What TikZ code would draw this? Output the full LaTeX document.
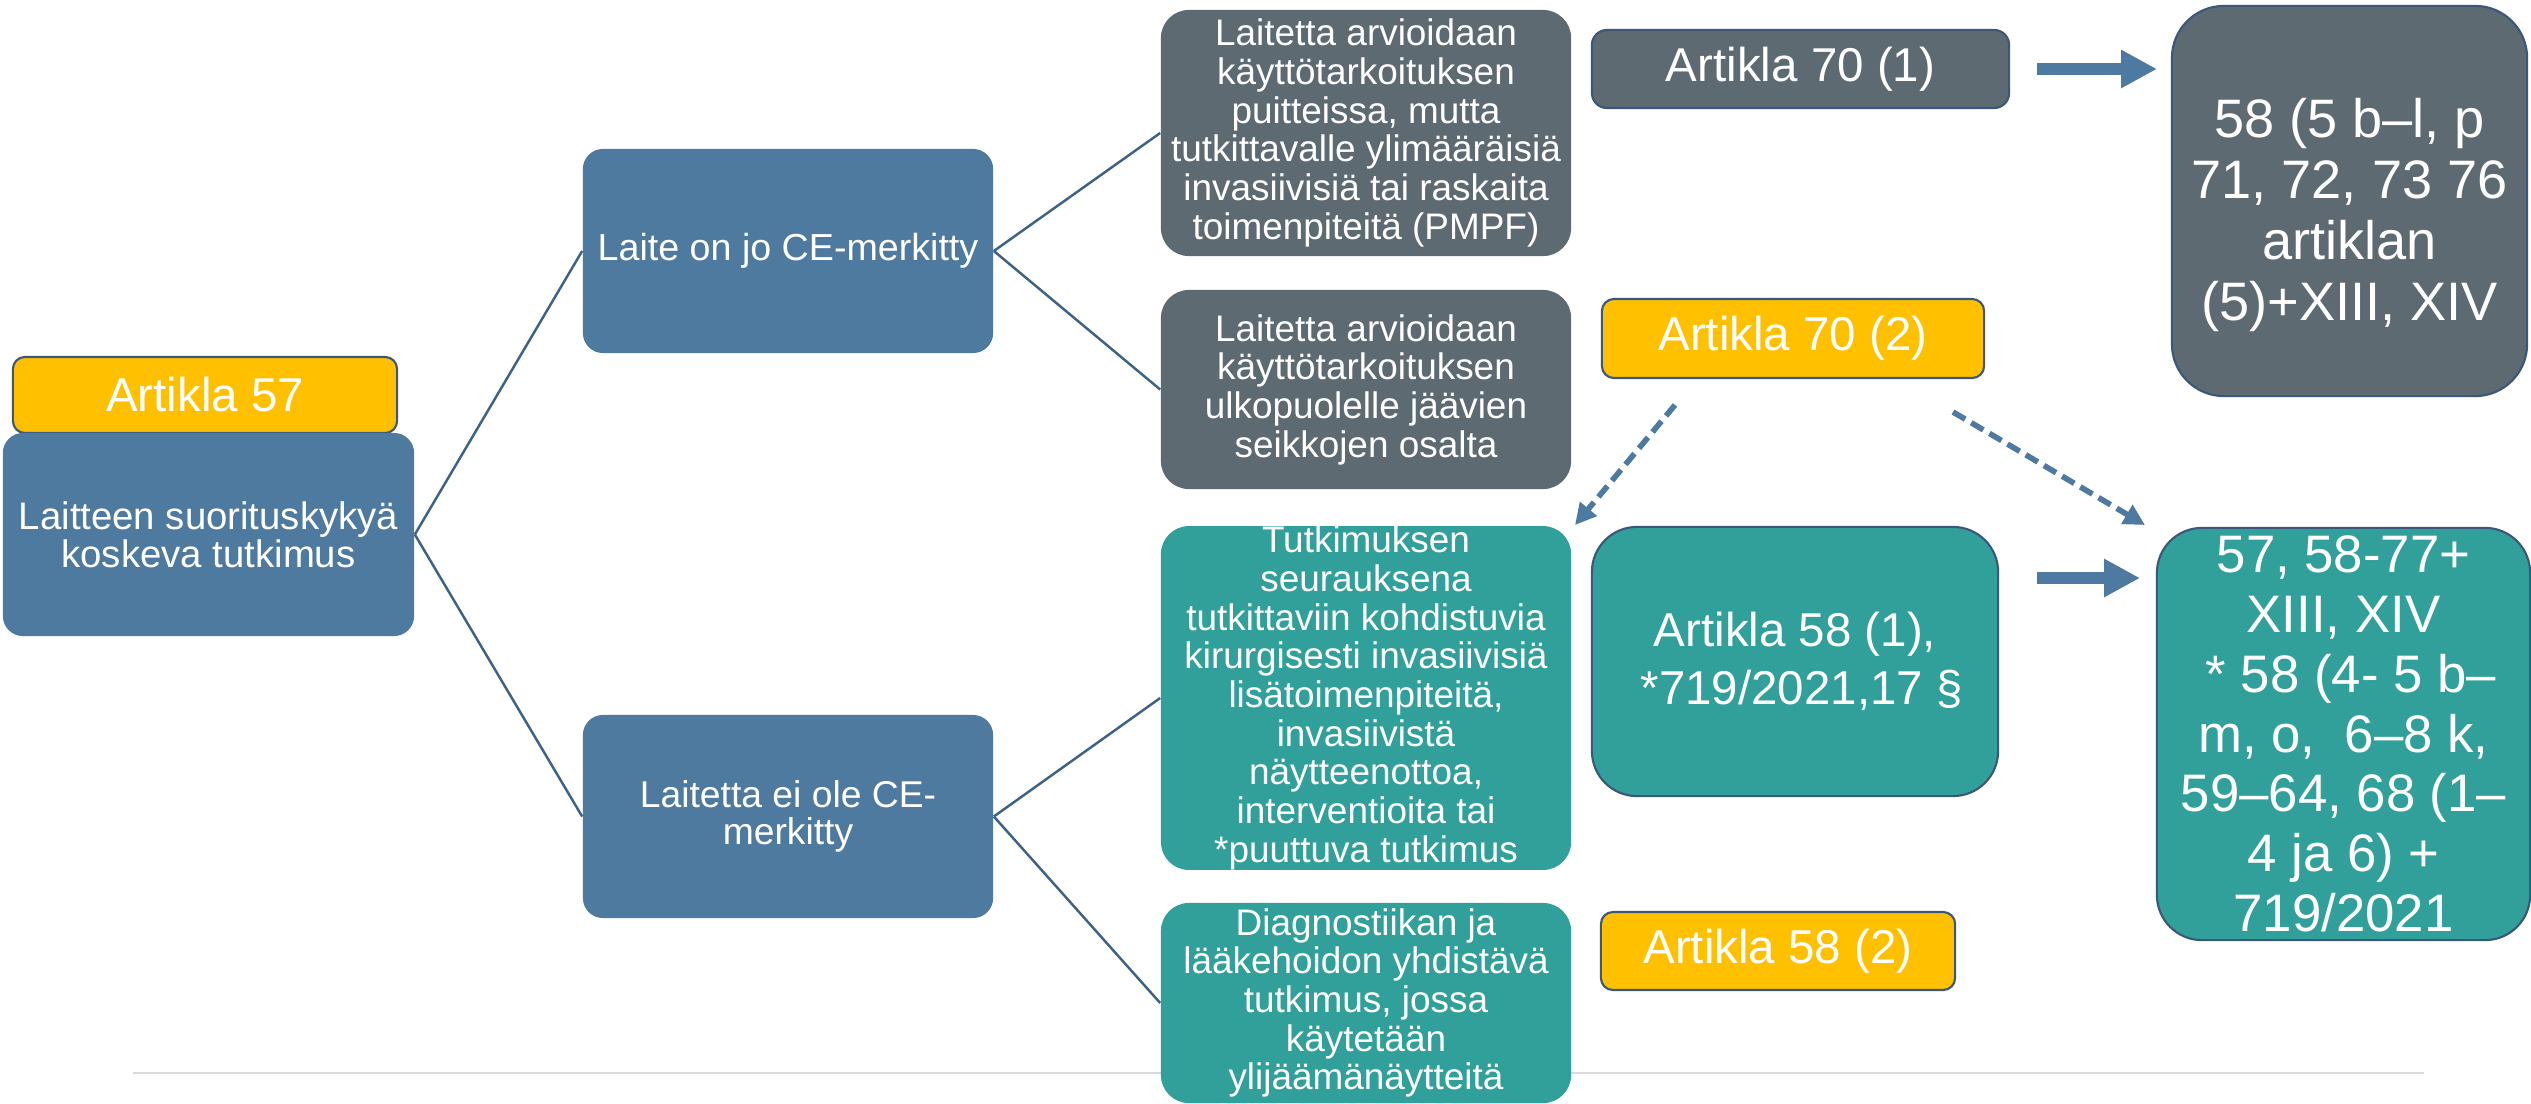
\documentclass[tikz,border=0pt]{standalone}
\usepackage{fontspec}
\setmainfont{Liberation Sans}
\usetikzlibrary{arrows.meta}
\definecolor{blueF}{RGB}{79,122,160}
\definecolor{greyF}{RGB}{94,106,114}
\definecolor{tealF}{RGB}{50,160,154}
\definecolor{yellowF}{RGB}{255,192,0}
\definecolor{borderC}{RGB}{59,87,122}
\definecolor{lineC}{RGB}{62,98,134}
\definecolor{arrowC}{RGB}{78,121,161}
\definecolor{sepC}{RGB}{218,218,218}
\newcommand{\smalltxt}{\fontsize{10.5}{11}\selectfont}
\newcommand{\bigtxt}{\fontsize{13.5}{16.3}\selectfont}
\tikzset{
  box/.style={rectangle, inner sep=0pt, text=white, align=center, anchor=center},
  bluebox/.style={box, fill=blueF, rounded corners=0.2cm, font=\smalltxt},
  greybox/.style={box, fill=greyF, rounded corners=0.28cm, font=\smalltxt},
  tealbox/.style={box, fill=tealF, rounded corners=0.28cm, font=\smalltxt},
  yellowbox/.style={box, fill=yellowF, draw=borderC, line width=0.6pt, rounded corners=0.12cm, font=\bigtxt},
  artbox/.style={box, draw=borderC, line width=0.6pt, font=\bigtxt},
  tree/.style={draw=lineC, line width=0.7pt},
  solidarrow/.style={draw=arrowC, line width=3.4pt, -{Triangle[length=10.2pt,width=10.2pt]}},
  dasharrow/.style={draw=arrowC, line width=1.6pt, dash pattern=on 4pt off 2pt, -{Triangle[length=6pt,width=6pt]}},
  sepline/.style={draw=sepC, line width=0.6pt}
}
\begin{document}
\begin{tikzpicture}[x=0.01cm, y=-0.01cm]
\useasboundingbox (0,0) rectangle (2531,1103);
% separator line
\coordinate (s1) at (133,1073);
\coordinate (s2) at (2424,1073);
\draw[sepline] (s1) -- (s2);

% left column
\node[yellowbox, minimum width=3.84cm, minimum height=0.76cm] (art57) at (205,395) {Artikla 57};
\node[bluebox, minimum width=4.11cm, minimum height=2.03cm, font=\fontsize{10.9}{10.9}\selectfont] (root) at (208.5,534.5) {Laitteen suorituskykyä\\koskeva tutkimus};

% second column
\node[bluebox, minimum width=4.10cm, minimum height=2.04cm, font=\fontsize{10.7}{11}\selectfont] (ce1) at (788,251) {Laite on jo CE-merkitty};
\node[bluebox, minimum width=4.10cm, minimum height=2.03cm, font=\fontsize{10.6}{10.4}\selectfont] (ce2) at (788,816.5) {Laitetta ei ole CE-\\merkitty};

% third column
\node[greybox, minimum width=4.10cm, minimum height=2.46cm] (g1) at (1366,133) {Laitetta arvioidaan\\käyttötarkoituksen\\puitteissa, mutta\\tutkittavalle ylimääräisiä\\invasiivisiä tai raskaita\\toimenpiteitä (PMPF)};
\node[greybox, minimum width=4.10cm, minimum height=1.99cm] (g2) at (1366,389.5) {Laitetta arvioidaan\\käyttötarkoituksen\\ulkopuolelle jäävien\\seikkojen osalta};
\node[tealbox, minimum width=4.10cm, minimum height=3.42cm] (t1) at (1366,698) {Tutkimuksen\\seurauksena\\tutkittaviin kohdistuvia\\kirurgisesti invasiivisiä\\lisätoimenpiteitä,\\invasiivistä\\näytteenottoa,\\interventioita tai\\*puuttuva tutkimus};
\node[tealbox, minimum width=4.10cm, minimum height=2.00cm] (t2) at (1366,1003) {Diagnostiikan ja\\lääkehoidon yhdistävä\\tutkimus, jossa\\käytetään\\ylijäämänäytteitä};

% article column
\node[artbox, fill=greyF, rounded corners=0.15cm, minimum width=4.17cm, minimum height=0.78cm] (a701) at (1800.5,69) {Artikla 70 (1)};
\node[yellowbox, minimum width=3.82cm, minimum height=0.79cm] (a702) at (1793,338.5) {Artikla 70 (2)};
\node[artbox, fill=tealF, rounded corners=0.45cm, minimum width=4.06cm, minimum height=2.69cm, font=\fontsize{13.5}{16.4}\selectfont] (a581) at (1795,661.5) {Artikla 58 (1),\\~*719/2021,17 §};
\node[yellowbox, minimum width=3.54cm, minimum height=0.78cm] (a582) at (1778,951) {Artikla 58 (2)};

% right column
\node[artbox, fill=greyF, rounded corners=0.52cm, minimum width=3.55cm, minimum height=3.90cm, font=\fontsize{15.4}{17.4}\selectfont] (gr) at (2349.5,201) {\rule{0pt}{19pt}58 (5 b–l, p\\71, 72, 73 76\\artiklan\\(5)+XIII, XIV};
\node[artbox, fill=tealF, rounded corners=0.45cm, minimum width=3.73cm, minimum height=4.12cm, font=\fontsize{15}{17}\selectfont] (tr) at (2343.5,734) {57, 58-77+\\XIII, XIV\\~* 58 (4- 5 b–\\m, o,~ 6–8 k,\\59–64, 68 (1–\\4 ja 6) +\\719/2021};

% tree connectors
\draw[tree] (root.east) -- (ce1.west);
\draw[tree] (root.east) -- (ce2.west);
\draw[tree] (ce1.east) -- (g1.west);
\draw[tree] (ce1.east) -- (g2.west);
\draw[tree] (ce2.east) -- (t1.west);
\draw[tree] (ce2.east) -- (t2.west);

% solid arrows
\coordinate (a1s) at (2037,69);
\coordinate (a1e) at (2157,69);
\coordinate (a2s) at (2037,578);
\coordinate (a2e) at (2140,578);
\draw[solidarrow] (a1s) -- (a1e);
\draw[solidarrow] (a2s) -- (a2e);

% dashed arrows
\coordinate (d1s) at (1675,405);
\coordinate (d1e) at (1575,525);
\coordinate (d2s) at (1953,412);
\coordinate (d2e) at (2145,525);
\draw[dasharrow] (d1s) -- (d1e);
\draw[dasharrow] (d2s) -- (d2e);
\end{tikzpicture}
\end{document}
